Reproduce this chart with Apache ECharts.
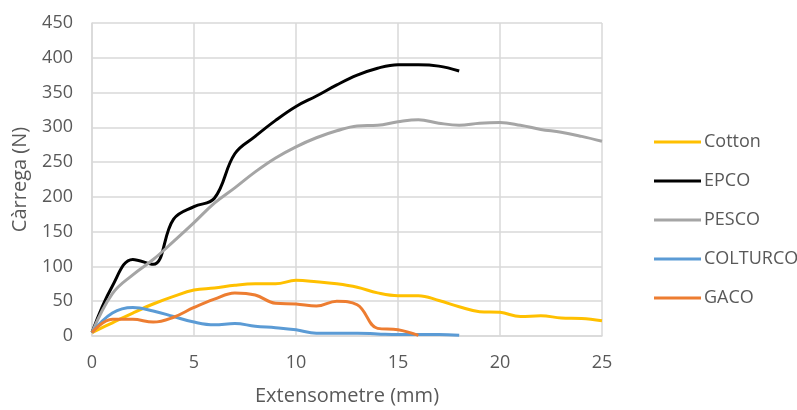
<!DOCTYPE html>
<html>
<head>
<meta charset="utf-8">
<script src="https://cdn.jsdelivr.net/npm/echarts@6/dist/echarts.min.js"></script>
<style>
  html, body { margin: 0; padding: 0; background: #fff; }
  #chart { width: 797px; height: 410px; }
</style>
</head>
<body>
<div id="chart"></div>
<script>
// Extension readings (mm), one sample per millimetre
const extension = [0,1,2,3,4,5,6,7,8,9,10,11,12,13,14,15,16,17,18,19,20,21,22,23,24,25];

// Load (N) for each fabric
const cotton   = [5,19,33,46,57,66,69,73,75,75,80,78,75,70,62,58,58,51,42,35,34,28,29,26,25,22];
const epco     = [5,72,110,103,168,186,198,262,287,310,330,345,361,375,385,390,390,388,381];
const pesco    = [5,61,88,110,136,163,191,213,236,256,272,285,295,302,303,308,311,306,303,306,307,303,297,293,287,280];
const colturco = [5,33,41,36,28,20,16,18,14,12,9,4,4,4,3,2,2,2,1];
const gaco     = [5,24,24,20,27,41,53,62,59,47,46,43,50,45,11,9,1];

const seriesNames  = ['Cotton','EPCO','PESCO','COLTURCO','GACO'];
const seriesValues = [cotton, epco, pesco, colturco, gaco];
const seriesColors = ['#FFC000','#000000','#A5A5A5','#5B9BD5','#ED7D31'];

const xTicks = { min: 0, max: 25, interval: 5 };
const yTicks = { min: 0, max: 450, interval: 50 };

const textColor = '#595959';
const gridColor = '#D9D9D9';
const font = 'Open Sans, Liberation Sans, sans-serif';

const chart = echarts.init(document.getElementById('chart'));
chart.setOption({
  animation: false,
  grid: { left: 92, top: 23, right: 195, bottom: 74, containLabel: false, outerBoundsMode: 'none' },
  legend: {
    orient: 'vertical',
    left: 649,
    top: 128,
    itemWidth: 47,
    itemHeight: 3,
    itemGap: 21,
    icon: 'rect',
    textStyle: { color: textColor, fontSize: 18, fontFamily: font, padding: [0, 0, 0, -2] },
    data: seriesNames
  },
  xAxis: {
    type: 'value',
    min: xTicks.min, max: xTicks.max, interval: xTicks.interval,
    name: 'Extensometre (mm)',
    nameLocation: 'middle',
    nameGap: 50,
    nameTextStyle: { color: textColor, fontSize: 20, fontFamily: font },
    axisLine: { show: true, lineStyle: { color: gridColor, width: 1.5 } },
    axisTick: { show: false },
    axisLabel: { color: textColor, fontSize: 18, fontFamily: font, margin: 18 },
    splitLine: { show: true, lineStyle: { color: gridColor, width: 1.5 } }
  },
  yAxis: {
    type: 'value',
    min: yTicks.min, max: yTicks.max, interval: yTicks.interval,
    name: 'Càrrega (N)',
    nameLocation: 'middle',
    nameGap: 62,
    nameRotate: 90,
    nameTextStyle: { color: textColor, fontSize: 20, fontFamily: font },
    axisLine: { show: true, lineStyle: { color: gridColor, width: 1.5 } },
    axisTick: { show: false },
    axisLabel: { color: textColor, fontSize: 18, fontFamily: font, margin: 19 },
    splitLine: { show: true, lineStyle: { color: gridColor, width: 1.5 } }
  },
  series: seriesNames.map((name, i) => ({
    name,
    type: 'line',
    smooth: 0.4,
    showSymbol: false,
    symbol: 'none',
    color: seriesColors[i],
    lineStyle: { color: seriesColors[i], width: 3 },
    data: seriesValues[i].map((v, k) => [extension[k], v])
  }))
});
</script>
</body>
</html>
